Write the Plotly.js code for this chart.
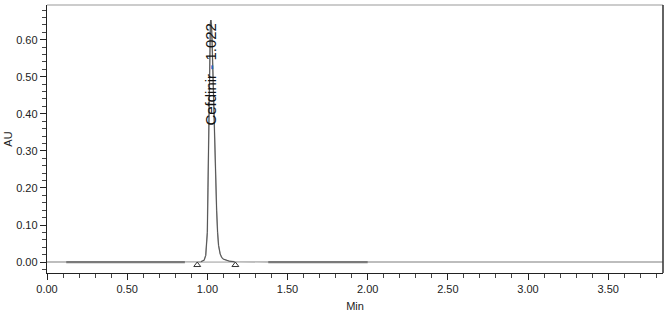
<!DOCTYPE html>
<html><head><meta charset="utf-8">
<script src="https://cdn.plot.ly/plotly-3.0.1.min.js"></script>
<style>html,body{margin:0;padding:0;background:#fff}#chart{width:671px;height:314px}</style>
</head><body><div id="chart"></div>
<script>
// Chromatogram trace (time in min, absorbance in AU)
const traceTime = [0.00, 0.12, 0.50, 0.86, 0.93, 0.96, 0.98, 0.99, 1.000, 1.004, 1.008, 1.012, 1.016, 1.019, 1.022, 1.026, 1.030, 1.035, 1.040, 1.046, 1.052, 1.058, 1.064, 1.070, 1.080, 1.090, 1.100, 1.120, 1.140, 1.170, 1.380, 2.00, 3.84];
const traceAU   = [0.000, 0.000, 0.000, 0.000, 0.000, 0.001, 0.005, 0.018, 0.080, 0.200, 0.350, 0.500, 0.610, 0.645, 0.653, 0.640, 0.590, 0.500, 0.420, 0.340, 0.230, 0.140, 0.080, 0.045, 0.022, 0.012, 0.008, 0.004, 0.002, 0.001, 0.000, 0.000, 0.000];
// Integration baseline segments
const base1Time = [0.12, 0.86];
const base1AU   = [0.000, 0.000];
const base2Time = [1.38, 2.00];
const base2AU   = [0.000, 0.000];
const peakBaseTime = [0.937, 1.175];
const peakBaseAU   = [0.000, 0.000];
// Peak start/end markers
const markTime = [0.937, 1.175];
const markAU   = [-0.008, -0.008];
// Peak label
const peakName = "Cefdinir";
const peakRT = 1.022;
const peakLabelAU = 0.508;

const xTickVals = [0.0, 0.5, 1.0, 1.5, 2.0, 2.5, 3.0, 3.5];
const xTickText = ["0.00", "0.50", "1.00", "1.50", "2.00", "2.50", "3.00", "3.50"];
const yTickVals = [0.0, 0.1, 0.2, 0.3, 0.4, 0.5, 0.6];
const yTickText = ["0.00", "0.10", "0.20", "0.30", "0.40", "0.50", "0.60"];

const data = [
  {x: traceTime, y: traceAU, mode: 'lines', line: {color: '#a8a8a8', width: 1.4}, hoverinfo: 'skip'},
  {x: base1Time, y: base1AU, mode: 'lines', line: {color: '#7a7a7a', width: 2.2}, hoverinfo: 'skip'},
  {x: base2Time, y: base2AU, mode: 'lines', line: {color: '#7a7a7a', width: 2.2}, hoverinfo: 'skip'},
  {x: peakBaseTime, y: peakBaseAU, mode: 'lines', line: {color: '#9a9a9a', width: 1}, hoverinfo: 'skip'},
  {x: traceTime.slice(5, 30), y: traceAU.slice(5, 30), mode: 'lines', line: {color: '#555', width: 1}, hoverinfo: 'skip'},
  {x: markTime, y: markAU, mode: 'markers', marker: {symbol: 'triangle-up-open', size: 6, color: '#333', line: {width: 1}}, hoverinfo: 'skip'}
];

const layout = {
  width: 671, height: 314,
  margin: {l: 47, r: 8, t: 5, b: 41},
  paper_bgcolor: '#fff', plot_bgcolor: '#fff',
  showlegend: false,
  font: {family: 'Arial, Liberation Sans, sans-serif', size: 11, color: '#222'},
  xaxis: {
    range: [0, 3.842], showgrid: false, zeroline: false,
    showline: true, linecolor: '#222', linewidth: 1.2,
    tickmode: 'array', tickvals: xTickVals, ticktext: xTickText,
    ticks: 'outside', ticklen: 6, tickcolor: '#222', tickwidth: 1,
    minor: {dtick: 0.1, tick0: 0, ticks: 'outside', ticklen: 4, tickcolor: '#444', tickwidth: 1},
    tickfont: {size: 11, color: '#222'},
    title: {text: 'Min', font: {size: 11, color: '#222'}, standoff: 7}
  },
  yaxis: {
    range: [-0.0295, 0.6935], showgrid: false, zeroline: false,
    showline: true, linecolor: '#222', linewidth: 1.2,
    tickmode: 'array', tickvals: yTickVals, ticktext: yTickText,
    ticks: 'outside', ticklen: 6, tickcolor: '#222', tickwidth: 1,
    minor: {dtick: 0.02, tick0: 0, ticks: 'outside', ticklen: 4, tickcolor: '#444', tickwidth: 1},
    tickfont: {size: 11, color: '#222'},
    title: {text: 'AU', font: {size: 11, color: '#222'}, standoff: 1}
  },
  shapes: [
    {type: 'line', xref: 'paper', yref: 'paper', x0: 0, x1: 1, y0: 1, y1: 1, line: {color: '#999', width: 1.2}},
    {type: 'line', xref: 'paper', yref: 'paper', x0: 1, x1: 1, y0: 0, y1: 1, line: {color: '#222', width: 1.4}}
  ],
  annotations: [
    {x: peakRT, y: peakLabelAU, xref: 'x', yref: 'y', showarrow: false, textangle: -90,
     text: peakName + ' <span style="color:#1f66d0;font-weight:bold">-</span> ' + peakRT.toFixed(3),
     font: {size: 15, color: '#111', family: 'Arial, Liberation Sans, sans-serif'}}
  ]
};

Plotly.newPlot('chart', data, layout, {staticPlot: true, displayModeBar: false});
</script>
</body></html>
